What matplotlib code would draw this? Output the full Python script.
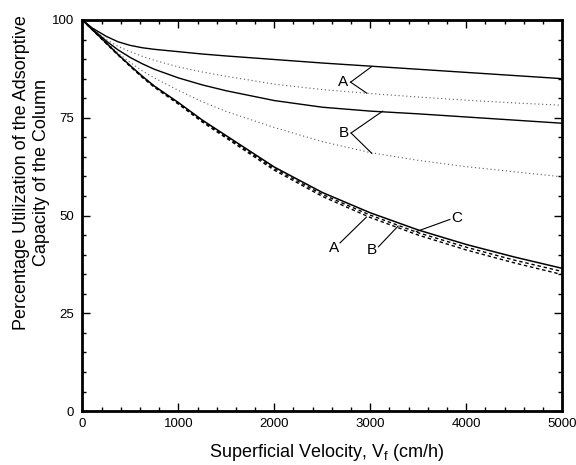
import matplotlib
matplotlib.use('Agg')
from matplotlib import pyplot as plt
from matplotlib.ticker import MultipleLocator

plt.rcParams['font.family'] = ['Liberation Sans', 'DejaVu Sans']

# superficial velocity (cm/h)
velocity = [0, 100, 250, 375, 500, 625, 750, 1000, 1250, 1500, 2000, 2500,
            3000, 3500, 4000, 4500, 5000]

# percentage utilization of the adsorptive capacity
solid_A = [100, 98.0, 95.8, 94.4, 93.5, 92.9, 92.5, 91.9, 91.3, 90.8, 89.9,
           89.0, 88.2, 87.4, 86.6, 85.8, 85.0]
dotted_A = [100, 97.8, 95.0, 93.2, 91.9, 90.7, 89.7, 88.0, 86.7, 85.6, 83.6,
            82.2, 81.2, 80.3, 79.5, 78.8, 78.2]
solid_B = [100, 97.8, 94.6, 92.3, 90.4, 88.8, 87.4, 85.2, 83.4, 81.9, 79.4,
           77.7, 76.7, 76.0, 75.2, 74.4, 73.6]
dotted_B = [100, 97.7, 94.3, 91.5, 89.1, 87.0, 85.2, 82.0, 79.1, 76.6, 72.5,
            68.9, 66.1, 64.1, 62.5, 61.2, 59.9]
solid_C = [100, 97.6, 94.1, 91.1, 88.3, 85.6, 83.1, 78.9, 74.4, 70.4, 62.4,
           55.9, 50.7, 46.3, 42.6, 39.4, 36.5]
dashed_A = [100, 97.6, 94.0, 91.0, 88.1, 85.3, 82.8, 78.5, 73.9, 69.8, 61.6,
            54.9, 49.5, 45.0, 41.2, 37.9, 34.9]
dashed_B = [100, 97.6, 94.0, 91.0, 88.2, 85.5, 83.0, 78.7, 74.2, 70.1, 62.0,
            55.4, 50.1, 45.6, 41.9, 38.6, 35.7]

# curve labels: text, text centre, leader start, leader ends
labels = [
    ('A', (2720, 84.1), (2795, 84.1), [(3016, 88.1), (2963, 81.3)]),
    ('B', (2720, 71.1), (2800, 71.1), [(3130, 76.7), (3016, 65.9)]),
    ('A', (2620, 41.6), (2685, 43.0), [(2960, 49.6)]),
    ('B', (3015, 41.3), (3085, 42.0), [(3290, 47.3)]),
    ('C', (3900, 49.4), (3830, 49.0), [(3480, 45.9)]),
]

fig = plt.figure(figsize=(5.76, 4.65), dpi=100)
ax = fig.add_axes([0.143, 0.116, 0.833, 0.841])

ax.plot(velocity, solid_A, color='black', lw=1.0)
ax.plot(velocity, dotted_A, color='0.35', lw=0.8, ls=(0, (1, 2.5)))
ax.plot(velocity, solid_B, color='black', lw=1.0)
ax.plot(velocity, dotted_B, color='0.35', lw=0.8, ls=(0, (1, 2.5)))
ax.plot(velocity, solid_C, color='black', lw=1.1)
ax.plot(velocity, dashed_A, color='black', lw=1.0, ls=(0, (2.5, 2)))
ax.plot(velocity, dashed_B, color='black', lw=1.0, ls=(0, (2.5, 2)))

for text, (tx, ty), (sx, sy), ends in labels:
    ax.text(tx, ty, text, fontsize=11, ha='center', va='center')
    for ex, ey in ends:
        ax.plot([sx, ex], [sy, ey], color='black', lw=0.8)

ax.set_xlim(0, 5000)
ax.set_ylim(0, 100)
ax.xaxis.set_major_locator(MultipleLocator(1000))
ax.xaxis.set_minor_locator(MultipleLocator(200))
ax.yaxis.set_major_locator(MultipleLocator(25))
ax.yaxis.set_minor_locator(MultipleLocator(5))
ax.tick_params(which='both', direction='in', top=True, right=True,
               labelsize=9.5, width=1)
ax.tick_params(axis='x', which='major', length=6, pad=5)
ax.tick_params(axis='y', which='major', length=6, pad=6)
ax.tick_params(which='minor', length=3)
for sp in ax.spines.values():
    sp.set_linewidth(2)

ax.set_xlabel(r'Superficial Velocity, V$_\mathregular{f}$ (cm/h)', fontsize=13)
ax.xaxis.set_label_coords(0.51, -0.107)
ax.xaxis.label.set_va('center')
ax.set_ylabel('Percentage Utilization of the Adsorptive\nCapacity of the Column',
              fontsize=13)
ax.yaxis.set_label_coords(-0.106, 0.609)
ax.yaxis.label.set_va('center')

fig.savefig('out.png', dpi=100)
